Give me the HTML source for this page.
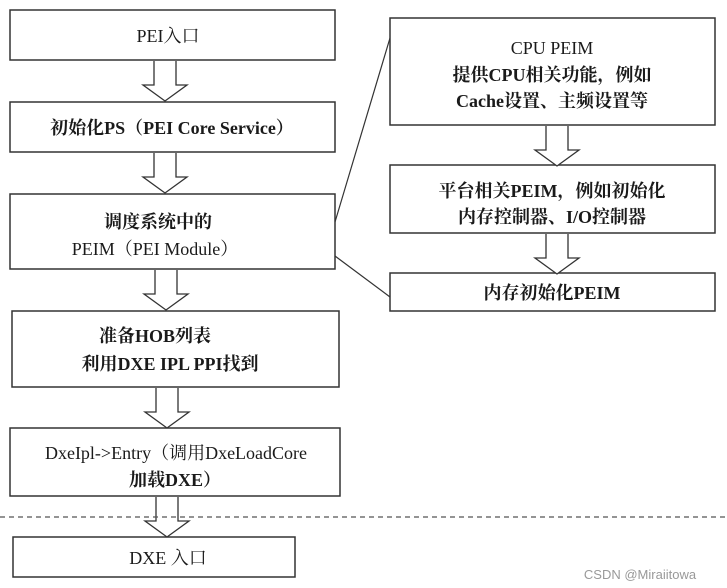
<!DOCTYPE html>
<html><head><meta charset="utf-8"><style>
html,body{margin:0;padding:0;background:#fff;}
svg{display:block;}
text{font-family:"Liberation Serif","Noto Serif CJK SC",serif;font-size:18px;fill:#1a1a1a;text-anchor:middle;font-weight:bold;}
</style></head><body>
<svg width="727" height="588" viewBox="0 0 727 588" xmlns="http://www.w3.org/2000/svg">
<defs>
<g id="arr"><path d="M-11,0 V24 H-22 L0,40 L22,24 H11 V0" fill="#fff" stroke="#333" stroke-width="1.3"/></g>
</defs>
<g fill="#fff" stroke="#333" stroke-width="1.5">
<rect x="10" y="10" width="325" height="50"/>
<rect x="10" y="102" width="325" height="50"/>
<rect x="10" y="194" width="325" height="75"/>
<rect x="12" y="311" width="327" height="76"/>
<rect x="10" y="428" width="330" height="68"/>
<rect x="13" y="537" width="282" height="40"/>
<rect x="390" y="18" width="325" height="107"/>
<rect x="390" y="165" width="325" height="68"/>
<rect x="390" y="273" width="325" height="38"/>
</g>
<use href="#arr" x="165" y="61"/>
<use href="#arr" x="165" y="153"/>
<use href="#arr" x="166" y="270"/>
<use href="#arr" x="167" y="388"/>
<use href="#arr" x="167" y="497"/>
<use href="#arr" x="557" y="126"/>
<use href="#arr" x="557" y="234"/>
<line x1="0" y1="517" x2="727" y2="517" stroke="#555" stroke-width="1.2" stroke-dasharray="5,4"/>
<line x1="335" y1="222" x2="390" y2="38" stroke="#333" stroke-width="1.2"/>
<line x1="335" y1="256" x2="390" y2="297" stroke="#333" stroke-width="1.2"/>
<text x="168" y="42" style="font-weight:normal">PEI入口</text>
<text x="172" y="134">初始化PS（PEI Core Service）</text>
<text x="158" y="228">调度系统中的</text>
<text x="155" y="255" style="font-weight:normal">PEIM（PEI Module）</text>
<text x="155" y="342">准备HOB列表</text>
<text x="170" y="370">利用DXE IPL PPI找到</text>
<text x="176" y="459" style="font-weight:normal">DxeIpl-&gt;Entry（调用DxeLoadCore</text>
<text x="175" y="486">加载DXE）</text>
<text x="168" y="564" style="font-weight:normal">DXE 入口</text>
<text x="552" y="54" style="font-weight:normal">CPU PEIM</text>
<text x="552" y="81">提供CPU相关功能，例如</text>
<text x="552" y="107">Cache设置、主频设置等</text>
<text x="552" y="197">平台相关PEIM，例如初始化</text>
<text x="552" y="223">内存控制器、I/O控制器</text>
<text x="552" y="299">内存初始化PEIM</text>
<text x="640" y="579" style="font-family:'Liberation Sans',sans-serif;font-size:13px;font-weight:normal;fill:#999">CSDN @Miraiitowa</text>
</svg>
</body></html>
